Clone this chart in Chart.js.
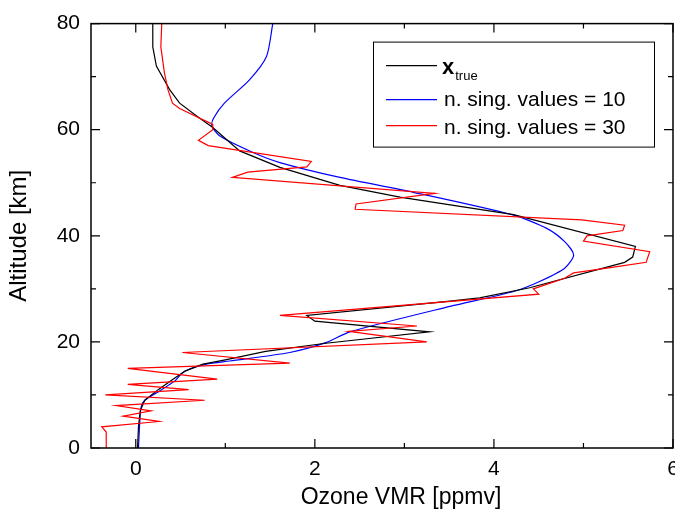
<!DOCTYPE html>
<html>
<head>
<meta charset="utf-8">
<script src="https://cdn.jsdelivr.net/npm/chart.js@4"></script>
<style>
body { margin: 0; background: #fff; }
#wrap { width: 675px; height: 518px; }
</style>
</head>
<body>
<div id="wrap"><canvas id="profile" width="675" height="518"></canvas></div>
<script>
// axis ticks
var xTicks = [0, 2, 4, 6];
var yTicks = [0, 20, 40, 60, 80];

// x_true profile
var trueAlt = [0, 4, 7, 9, 11, 13, 14.5, 15.8, 16.6, 18.2, 19.7, 21.9, 23.9, 25, 27.7, 28.3, 30.2, 35, 36, 38, 44, 47.3, 49.5, 52.9, 56, 60.4, 62.6, 65, 67.5, 72, 75.6, 80];
var trueVmr = [0.02, 0.03, 0.05, 0.1, 0.25, 0.42, 0.55, 0.75, 1.0, 1.45, 2.1, 3.28, 2.0, 1.91, 3.51, 3.84, 4.4, 5.46, 5.55, 5.58, 4.22, 2.95, 2.28, 1.61, 1.16, 0.86, 0.68, 0.49, 0.38, 0.23, 0.19, 0.19];

// retrieval with 10 singular values
var sv10Alt = [0, 5, 7.7, 9, 10.8, 12.7, 14, 14.9, 15.8, 16.4, 18, 19.9, 21.9, 26.7, 29.5, 31.4, 33.9, 36.4, 38.9, 41.4, 43.9, 48.2, 51, 53.8, 55.7, 58.8, 60.7, 62.2, 65, 69.4, 73.8, 80];
var sv10Vmr = [0.03, 0.045, 0.06, 0.1, 0.27, 0.44, 0.51, 0.6, 0.79, 1.05, 1.72, 2.13, 2.39, 3.51, 4.22, 4.51, 4.79, 4.89, 4.79, 4.59, 4.22, 3.10, 2.28, 1.61, 1.31, 0.94, 0.85, 0.87, 0.99, 1.27, 1.46, 1.53];

// retrieval with 30 singular values
var sv30Alt = [0, 3, 4, 5, 6, 7, 8, 9, 10, 11, 12, 13, 15, 16, 18, 20, 22, 23, 25, 29, 30, 32, 33, 34, 35, 37, 39, 40, 41, 42, 43, 45, 46, 48, 51, 52, 53, 54, 57, 58, 60, 61, 64, 65, 67.5, 70.7, 75.6, 80];
var sv30Vmr = [-0.33, -0.33, -0.38, 0.26, -0.14, 0.17, -0.22, 0.77, -0.34, 0.59, -0.09, 0.91, -0.09, 1.72, 0.52, 3.25, 2.38, 3.14, 1.61, 4.5, 4.44, 4.79, 4.89, 5.3, 5.7, 5.74, 5.0, 5.04, 5.44, 5.46, 4.98, 2.45, 2.46, 3.34, 1.08, 1.25, 1.91, 1.96, 0.81, 0.70, 0.86, 0.86, 0.49, 0.41, 0.36, 0.32, 0.28, 0.29];

var xTitle = 'Ozone VMR [ppmv]';
var yTitle = 'Altitude [km]';

function pts(vmr, alt) {
	var out = [];
	for (var i in vmr) {
		out.push({ x: vmr[i], y: alt[i] });
	}
	return out;
}

Chart.defaults.font.family = '"Liberation Sans", Arial, sans-serif';
Chart.defaults.font.size = 21;
Chart.defaults.color = '#000';

// box round the plot with inward ticks on all four sides
var frameTicks = {
	id: 'frameTicks',
	afterDatasetsDraw: function(chart) {
		var ctx = chart.ctx, a = chart.chartArea;
		var xs = chart.scales.x, ys = chart.scales.y;
		ctx.save();
		ctx.strokeStyle = '#000';
		ctx.lineWidth = 1.5;
		ctx.strokeRect(a.left, a.top, a.right - a.left, a.bottom - a.top);
		ctx.lineWidth = 1.2;
		function xMark(v, len) {
			var p = xs.getPixelForValue(v);
			ctx.beginPath();
			ctx.moveTo(p, a.bottom); ctx.lineTo(p, a.bottom - len);
			ctx.moveTo(p, a.top); ctx.lineTo(p, a.top + len);
			ctx.stroke();
		}
		function yMark(v, len) {
			var p = ys.getPixelForValue(v);
			ctx.beginPath();
			ctx.moveTo(a.left, p); ctx.lineTo(a.left + len, p);
			ctx.moveTo(a.right, p); ctx.lineTo(a.right - len, p);
			ctx.stroke();
		}
		for (var i = 0; i < xTicks.length; i++) {
			xMark(xTicks[i], 9);
			var mx = xTicks[i] + (xTicks[1] - xTicks[0]) / 2;
			if (mx < xs.max) xMark(mx, 5);
		}
		for (var j = 0; j < yTicks.length; j++) {
			yMark(yTicks[j], 9);
			var my = yTicks[j] + (yTicks[1] - yTicks[0]) / 2;
			if (my < ys.max) yMark(my, 5);
		}
		// x axis title, sits a little right of the plot centre
		ctx.fillStyle = '#000';
		ctx.font = '23px "Liberation Sans", Arial, sans-serif';
		ctx.textAlign = 'center';
		ctx.textBaseline = 'middle';
		ctx.fillText(xTitle, (a.left + a.right) / 2 + 19, a.bottom + 50);
		ctx.restore();
	}
};

// framed legend with subscript label
var legendBox = {
	id: 'legendBox',
	afterDraw: function(chart) {
		var ctx = chart.ctx, a = chart.chartArea;
		var bx = a.left + 282, by = a.top + 18, bw = 281, bh = 105;
		var ds = chart.data.datasets;
		var lineY = [by + 24, by + 58, by + 84];
		var baseY = [by + 32, by + 64, by + 92];
		ctx.save();
		ctx.fillStyle = '#fff';
		ctx.fillRect(bx, by, bw, bh);
		ctx.strokeStyle = '#000';
		ctx.lineWidth = 1;
		ctx.strokeRect(bx + 0.5, by + 0.5, bw, bh);
		for (var i = 0; i < ds.length; i++) {
			ctx.strokeStyle = ds[i].borderColor;
			ctx.lineWidth = 1.2;
			ctx.beginPath();
			ctx.moveTo(bx + 13, lineY[i]);
			ctx.lineTo(bx + 64, lineY[i]);
			ctx.stroke();
		}
		ctx.fillStyle = '#000';
		ctx.textBaseline = 'alphabetic';
		ctx.font = 'bold 22px "Liberation Sans", Arial, sans-serif';
		ctx.fillText('x', bx + 69, baseY[0]);
		var w = ctx.measureText('x').width;
		ctx.font = '13px "Liberation Sans", Arial, sans-serif';
		ctx.fillText('true', bx + 70 + w, baseY[0] + 6);
		ctx.font = '21px "Liberation Sans", Arial, sans-serif';
		ctx.fillText(ds[1].label, bx + 71, baseY[1]);
		ctx.fillText(ds[2].label, bx + 71, baseY[2]);
		ctx.restore();
	}
};

var ctx = document.getElementById('profile');

var profileChart = new Chart(ctx, {
	type: 'scatter',
	data: {
		datasets: [
			{
				label: 'x true',
				data: pts(trueVmr, trueAlt),
				showLine: true,
				borderColor: '#000000',
				borderWidth: 1.2,
				pointRadius: 0,
				tension: 0,
				order: 2
			},
			{
				label: 'n. sing. values = 10',
				data: pts(sv10Vmr, sv10Alt),
				showLine: true,
				borderColor: '#0000ff',
				borderWidth: 1.2,
				pointRadius: 0,
				tension: 0.25,
				order: 3
			},
			{
				label: 'n. sing. values = 30',
				data: pts(sv30Vmr, sv30Alt),
				showLine: true,
				borderColor: '#ff0000',
				borderWidth: 1.2,
				pointRadius: 0,
				tension: 0,
				order: 1
			}
		]
	},
	options: {
		responsive: false,
		animation: false,
		layout: { padding: { top: 20, right: 2, left: 0, bottom: 0 } },
		plugins: {
			legend: { display: false },
			tooltip: { enabled: false }
		},
		scales: {
			x: {
				type: 'linear',
				min: -0.5,
				max: 6,
				grid: { display: false, drawTicks: false },
				border: { display: false },
				ticks: { padding: 9 },
				afterBuildTicks: function(scale) {
					scale.ticks = xTicks.map(function(v) { return { value: v }; });
				},
				afterFit: function(scale) {
					scale.height = 70;
					scale.paddingLeft = 0;
					scale.paddingRight = 0;
				}
			},
			y: {
				type: 'linear',
				min: 0,
				max: 80,
				grid: { display: false, drawTicks: false },
				border: { display: false },
				ticks: { padding: 11 },
				afterBuildTicks: function(scale) {
					scale.ticks = yTicks.map(function(v) { return { value: v }; });
				},
				afterFit: function(scale) {
					scale.width = 91;
				},
				title: { display: true, text: yTitle, font: { size: 24 }, padding: { top: 5, bottom: 0 } }
			}
		}
	},
	plugins: [frameTicks, legendBox]
});
</script>
</body>
</html>
